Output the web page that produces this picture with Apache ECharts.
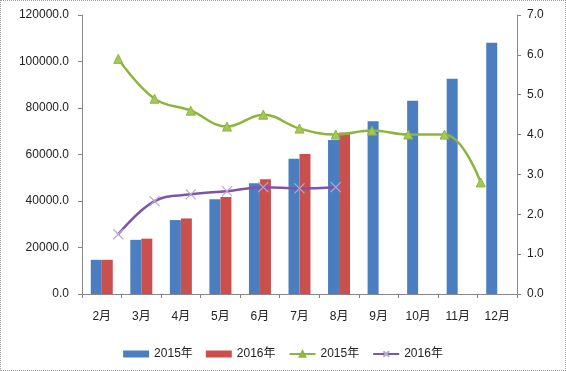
<!DOCTYPE html>
<html><head><meta charset="utf-8">
<script src="https://cdn.jsdelivr.net/npm/echarts@6/dist/echarts.min.js"></script>
<style>html,body{margin:0;padding:0;background:#fff}
#wrap{position:relative;width:566px;height:371px}
#c{width:566px;height:371px}
#frame{position:absolute;left:0;top:0;width:566px;height:371px;box-sizing:border-box;border:1px dotted #999;pointer-events:none}</style>
</head><body><div id="wrap"><div id="c"></div><div id="frame"></div></div>
<script>
const categories = ['2月','3月','4月','5月','6月','7月','8月','9月','10月','11月','12月'];
const lineSlots = ['','2月','3月','4月','5月','6月','7月','8月','9月','10月','11月','12月',''];
const bar2015 = [14700, 23300, 31800, 40700, 47600, 58200, 66200, 74300, 83100, 92600, 108100];
const bar2016 = [14700, 23800, 32500, 41700, 49400, 60200, 69500, null, null, null, null];
const line2015 = [null, 5.9, 4.9, 4.6, 4.2, 4.5, 4.15, 4.0, 4.1, 4.0, 4.0, 2.8, null];
const line2016 = [null, 1.5, 2.33, 2.5, 2.58, 2.68, 2.65, 2.68, null, null, null, null, null];
const leftTicks = {min:0, max:120000, interval:20000};
const rightTicks = {min:0, max:7, interval:1};

const font = "'Liberation Sans','Noto Sans CJK SC',sans-serif";
const axisGray = '#868686';
const chart = echarts.init(document.getElementById('c'), null, {renderer:'canvas'});
const xPath = 'path://M0,0L10,10M10,0L0,10';
chart.setOption({
  animation:false,
  textStyle:{fontFamily:font},
  grid:{left:82, right:49, top:15, bottom:77},
  legend:{
    top:343, left:'center', itemGap:13, itemWidth:26, itemHeight:7,
    textStyle:{fontSize:12, color:'#222', fontFamily:font},
    data:[
      {name:'2015年 ', icon:'rect'},
      {name:'2016年 ', icon:'rect'},
      {name:'2015年'},
      {name:'2016年'}
    ],
    formatter: n => n.trim()
  },
  xAxis:[
    {type:'category', data:categories, boundaryGap:true,
     axisLine:{lineStyle:{color:axisGray}},
     axisTick:{show:true, length:4, lineStyle:{color:axisGray}},
     axisLabel:{color:'#222', fontSize:12, margin:17, fontFamily:font}},
    {type:'category', data:lineSlots, boundaryGap:false, show:false}
  ],
  yAxis:[
    {type:'value', min:leftTicks.min, max:leftTicks.max, interval:leftTicks.interval,
     axisLine:{show:true, lineStyle:{color:axisGray}},
     axisTick:{show:true, length:4, lineStyle:{color:axisGray}},
     splitLine:{show:false},
     axisLabel:{color:'#222', fontSize:12, margin:13, formatter:v=>v.toFixed(1)}},
    {type:'value', min:rightTicks.min, max:rightTicks.max, interval:rightTicks.interval, position:'right',
     axisLine:{show:true, lineStyle:{color:axisGray}},
     axisTick:{show:true, length:4, lineStyle:{color:axisGray}},
     splitLine:{show:false},
     axisLabel:{color:'#222', fontSize:12, margin:10, formatter:v=>v.toFixed(1)}}
  ],
  series:[
    {name:'2015年 ', type:'bar', data:bar2015, barWidth:11, barGap:'0%', xAxisIndex:0, yAxisIndex:0,
     itemStyle:{color:'#4A7EC0'}},
    {name:'2016年 ', type:'bar', data:bar2016, barWidth:11, barGap:'0%', xAxisIndex:0, yAxisIndex:0,
     itemStyle:{color:'#C9504D'}},
    {name:'2015年', type:'line', data:line2015, xAxisIndex:1, yAxisIndex:1, smooth:0.4,
     symbol:'triangle', symbolSize:9, connectNulls:false,
     lineStyle:{color:'#8DB53C', width:2.5},
     itemStyle:{color:'#A3C85A', borderColor:'#8DB53C', borderWidth:1}},
    {name:'2016年', type:'line', data:line2016, xAxisIndex:1, yAxisIndex:1, smooth:0.4,
     symbol:xPath, symbolSize:10,
     lineStyle:{color:'#7D55A8', width:2.5},
     itemStyle:{color:'#B9A6D3', borderColor:'#B9A6D3', borderWidth:1.2}}
  ]
});
</script></body></html>
